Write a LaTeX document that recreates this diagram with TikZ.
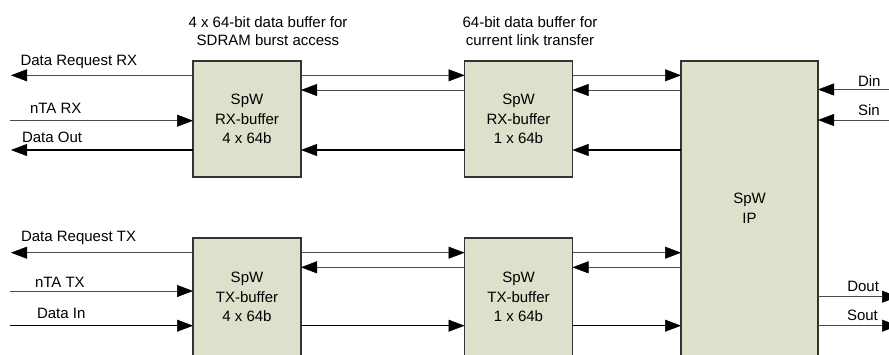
\documentclass[tikz,border=0pt]{standalone}
\usepackage{fontspec}
\setmainfont{Liberation Sans}
\usetikzlibrary{arrows.meta}
\definecolor{boxfill}{RGB}{221,224,203}
\begin{document}
\begin{tikzpicture}[x=1pt,y=-1pt,
  every node/.style={font=\fontsize{15}{18.5}\selectfont, inner sep=0pt, outer sep=0pt},
  blk/.style={draw=black!80, line width=1.2pt, fill=boxfill, align=center,
    font=\fontsize{15}{19.5}\selectfont, minimum width=108pt, minimum height=116pt},
  sig/.style={line width=0.8pt, draw=black!70},
  bus/.style={line width=1.3pt, draw=black},
  tip/.style={-{Triangle[length=16pt 0 0,width=12pt 0 0,line width=0.5pt,color=black,fill=black]}},
  lbl/.style={anchor=base west},
  ttl/.style={align=center}
]
\useasboundingbox (0,0) rectangle (889,354);

% blocks
\node[blk] (rx4) at (247,119) {SpW\\RX-buffer\\4 x 64b};
\node[blk] (rx1) at (518.5,119) {SpW\\RX-buffer\\1 x 64b};
\node[blk, minimum height=118pt] (tx4) at (247,297) {SpW\\TX-buffer\\4 x 64b};
\node[blk, minimum height=118pt] (tx1) at (518.5,297) {SpW\\TX-buffer\\1 x 64b};
\node[blk, minimum width=137pt, minimum height=295pt] (ip) at (749.5,208.5) {SpW\\IP};

% titles
\node[ttl] (t1) at (268,31.3) {4 x 64-bit data buffer for\\SDRAM burst access};
\node[ttl] (t2) at (530,31.3) {64-bit data buffer for\\current link transfer};

% level coordinates
\coordinate (yA) at (0,75.3);
\coordinate (yB) at (0,90);
\coordinate (yD) at (0,150);
\coordinate (yE) at (0,252.7);
\coordinate (yF) at (0,267.3);
\coordinate (yI) at (0,325.7);

% free ends
\coordinate (drrx) at (11,75.3);
\coordinate (ntarx) at (10,120.7);
\coordinate (dout) at (11,150);
\coordinate (drtx) at (11,252.7);
\coordinate (ntatx) at (10,291);
\coordinate (din) at (10,325.7);
\coordinate (Din) at (889,89.5);
\coordinate (Sin) at (889,120);
\coordinate (Dout) at (898,296.7);
\coordinate (Sout) at (898,325.7);

% RX side
\draw[sig,tip] (rx4.west |- drrx) -- (drrx);
\draw[sig,tip] (ntarx) -- (ntarx -| rx4.west);
\draw[bus,tip] (rx4.west |- dout) -- (dout);
\draw[sig,tip] (rx4.east |- yA) -- (rx1.west |- yA);
\draw[sig,tip] (rx1.west |- yB) -- (rx4.east |- yB);
\draw[bus,tip] (rx1.west |- yD) -- (rx4.east |- yD);
\draw[sig,tip] (rx1.east |- yA) -- (ip.west |- yA);
\draw[sig,tip] (ip.west |- yB) -- (rx1.east |- yB);
\draw[bus,tip] (ip.west |- yD) -- (rx1.east |- yD);
\draw[sig,tip] (Din) -- (Din -| ip.east);
\draw[sig,tip] (Sin) -- (Sin -| ip.east);

% TX side
\draw[sig,tip] (tx4.west |- drtx) -- (drtx);
\draw[sig,tip] (ntatx) -- (ntatx -| tx4.west);
\draw[bus,tip] (din) -- (din -| tx4.west);
\draw[sig,tip] (tx4.east |- yE) -- (tx1.west |- yE);
\draw[sig,tip] (tx1.west |- yF) -- (tx4.east |- yF);
\draw[bus,tip] (tx4.east |- yI) -- (tx1.west |- yI);
\draw[sig,tip] (tx1.east |- yE) -- (ip.west |- yE);
\draw[sig,tip] (ip.west |- yF) -- (tx1.east |- yF);
\draw[bus,tip] (tx1.east |- yI) -- (ip.west |- yI);
\draw[sig,tip] (ip.east |- Dout) -- (Dout);
\draw[sig,tip] (ip.east |- Sout) -- (Sout);

% labels
\node[lbl] (lDRRX) at (20.5,65) {Data Request RX};
\node[lbl] (lNTARX) at (30,113.5) {nTA RX};
\node[lbl] (lDOUT) at (22,142) {Data Out};
\node[lbl] (lDRTX) at (21,241) {Data Request TX};
\node[lbl] (lNTATX) at (35,287) {nTA TX};
\node[lbl] (lDIN) at (37,318.5) {Data In};
\node[lbl] (lDin) at (858,86) {Din};
\node[lbl] (lSin) at (858,115) {Sin};
\node[lbl] (lDout) at (847.3,291) {Dout};
\node[lbl] (lSout) at (847,320) {Sout};
\end{tikzpicture}
\end{document}
